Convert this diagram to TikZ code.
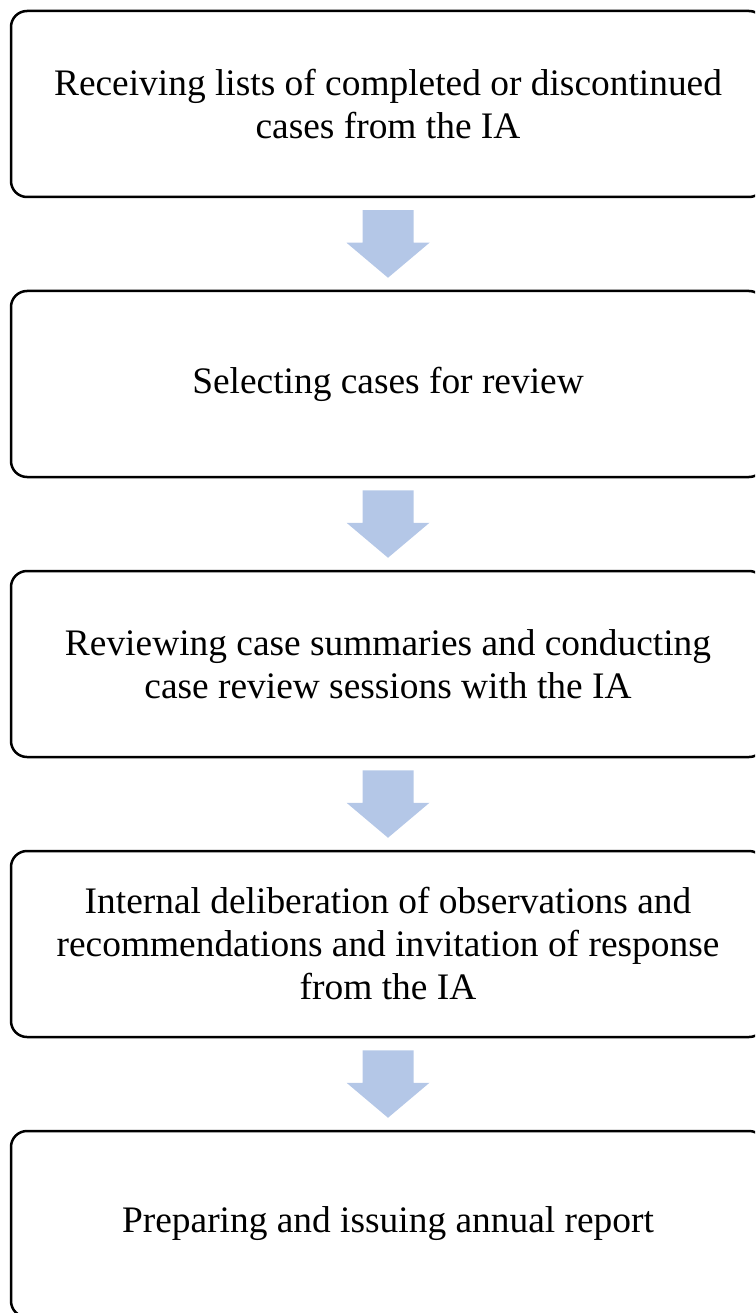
\documentclass[tikz,border=0pt]{standalone}
\usepackage{fontspec}
\setmainfont{Liberation Serif}
\usetikzlibrary{calc}
\definecolor{arrowblue}{HTML}{B4C7E7}
\tikzset{
  stepbox/.style={draw=black, line width=2.5pt, rounded corners=16pt,
    minimum width=754pt, minimum height=186pt, align=center, inner sep=0pt,
    font=\fontsize{37.4pt}{43pt}\selectfont},
  blockarrow/.style={fill=arrowblue, draw=none}
}
\newcommand{\blockarr}[2]{%
  \coordinate (t) at ($(#1.south)+(0,12)$);
  \coordinate (p) at ($(#2.north)+(0,-12)$);
  \fill[blockarrow] ($(t)+(-25.5,0)$) -- ($(t)+(25.5,0)$) -- ($(p)+(25.5,-35)$)
    -- ($(p)+(41.5,-35)$) -- (p) -- ($(p)+(-41.5,-35)$) -- ($(p)+(-25.5,-35)$) -- cycle;
}
\begin{document}
\begin{tikzpicture}[x=1pt,y=-1pt]
\useasboundingbox (0,0) rectangle (755,1313);
\clip (0,0) rectangle (755,1313);
\node[stepbox] (b1) at (388,104) {Receiving lists of completed or discontinued\\cases from the IA};
\node[stepbox] (b2) at (388,384) {Selecting cases for review};
\node[stepbox] (b3) at (388,664) {Reviewing case summaries and conducting\\case review sessions with the IA};
\node[stepbox] (b4) at (388,944) {Internal deliberation of observations and\\recommendations and invitation of response\\from the IA};
\node[stepbox] (b5) at (388,1224) {Preparing and issuing annual report};
\blockarr{b1}{b2}
\blockarr{b2}{b3}
\blockarr{b3}{b4}
\blockarr{b4}{b5}
\end{tikzpicture}
\end{document}
